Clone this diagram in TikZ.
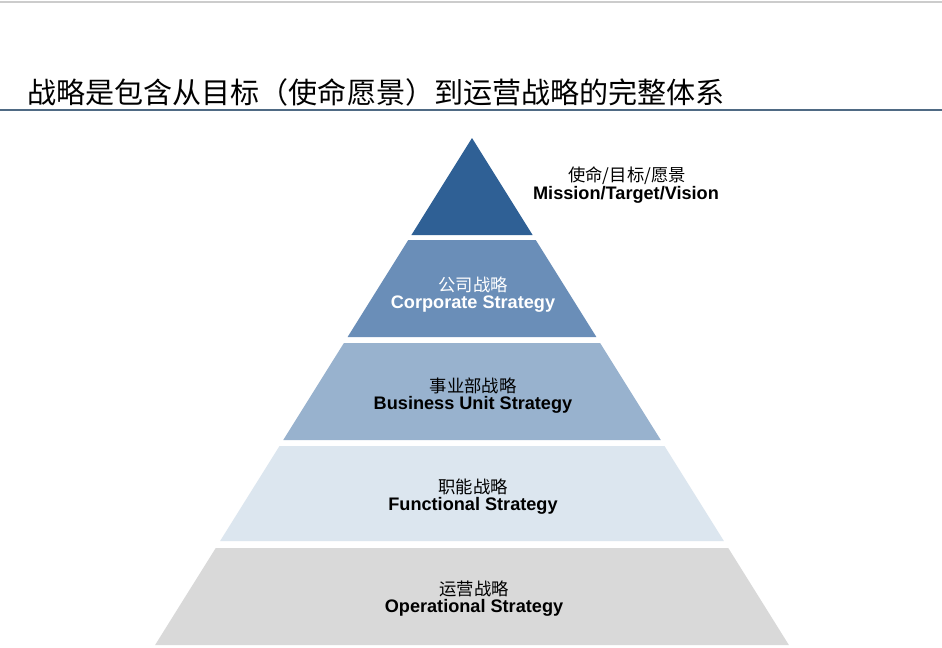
\documentclass[tikz,border=0pt]{standalone}
\usepackage{fontspec}
\setmainfont{Liberation Sans}
\newfontfamily\cjk{Noto Sans CJK SC}
\definecolor{lvA}{HTML}{2F6095}
\definecolor{lvB}{HTML}{6A8EB8}
\definecolor{lvC}{HTML}{98B2CE}
\definecolor{lvD}{HTML}{DCE6EF}
\definecolor{lvE}{HTML}{D9D9D9}
\definecolor{rule}{HTML}{4F6A84}
\definecolor{topline}{HTML}{CCCCCC}
\tikzset{
  cnlab/.style={font=\cjk\fontsize{13}{15}\selectfont, inner sep=0pt},
  enlab/.style={font=\bfseries\fontsize{13.6}{15}\selectfont, inner sep=0pt},
}
\begin{document}
\begin{tikzpicture}[x=0.75pt,y=-0.75pt]
\useasboundingbox (0,0) rectangle (942,647);
\fill[white] (0,0) rectangle (942,647);
% rules
\coordinate (tl1) at (0,2);
\coordinate (tl2) at (942,2);
\draw[topline, line width=1.2pt] (tl1) -- (tl2);
\coordinate (r1) at (0,110);
\coordinate (r2) at (942,110);
\draw[rule, line width=1pt] (r1) -- (r2);
% title
\node[anchor=west, inner sep=0pt, font=\cjk\fontsize{21.8}{24}\selectfont] (title) at (27,92) {战略是包含从目标（使命愿景）到运营战略的完整体系};
% pyramid levels
\fill[lvA] (472,138) -- (532.6,235) -- (411.4,235) -- cycle;
\fill[lvB] (408.25,240) -- (535.75,240) -- (596.4,337) -- (347.6,337) -- cycle;
\fill[lvC] (343.9,343) -- (600.1,343) -- (660.75,440) -- (283.25,440) -- cycle;
\fill[lvD] (279.5,446) -- (664.5,446) -- (723.9,541) -- (220.1,541) -- cycle;
\fill[lvE] (215.75,548) -- (728.25,548) -- (788.9,645) -- (155.1,645) -- cycle;
% labels
\node[cnlab] (m-cn) at (627,176) {使命/目标/愿景};
\node[enlab] (m-en) at (626,195) {Mission/Target/Vision};
\node[cnlab, text=white] (c-cn) at (473,285) {公司战略};
\node[enlab, text=white] (c-en) at (473,304) {Corporate Strategy};
\node[cnlab] (b-cn) at (473,386) {事业部战略};
\node[enlab] (b-en) at (473,405) {Business Unit Strategy};
\node[cnlab] (f-cn) at (473,487) {职能战略};
\node[enlab] (f-en) at (473,506) {Functional Strategy};
\node[cnlab] (o-cn) at (474,589) {运营战略};
\node[enlab] (o-en) at (474,608) {Operational Strategy};
\end{tikzpicture}
\end{document}
